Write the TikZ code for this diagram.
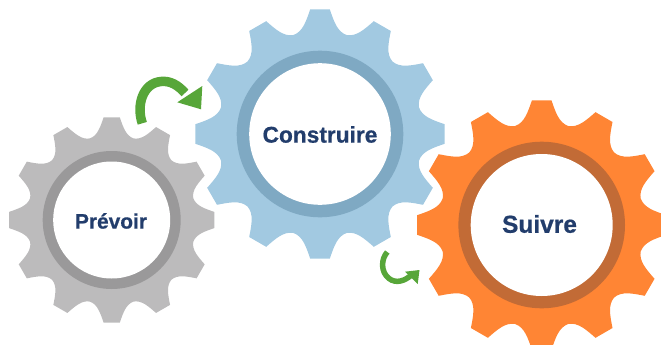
\documentclass[tikz,border=0pt]{standalone}
\usepackage{fontspec}
\setmainfont{Liberation Sans}
\newfontfamily\heavyfont[FakeBold=0.6]{Liberation Sans Bold}
\definecolor{grayA}{HTML}{BCBBBC}\definecolor{grayB}{HTML}{9A999A}
\definecolor{blueA}{HTML}{A2C9E1}\definecolor{blueB}{HTML}{7FA9C3}
\definecolor{orangeA}{HTML}{FF8534}\definecolor{orangeB}{HTML}{C26B36}
\definecolor{greenA}{HTML}{57A639}\definecolor{navy}{HTML}{223D6C}
% #1 centre x, #2 centre y, #3 outer radius, #4 ring outer, #5 ring inner, #6 fill, #7 ring colour
\newcommand{\gearshape}[7]{%
  \begin{scope}[shift={(#1,#2)}]
    \fill[#6] (-4.5:#3)
      \foreach \a in {0,30,...,330}{
        -- (\a+4.5:#3)
        .. controls (\a+7:{0.91*#3}) and (\a+9.5:{0.83*#3}) .. (\a+15:{0.82*#3})
        .. controls (\a+20.5:{0.83*#3}) and (\a+23:{0.91*#3}) .. (\a+25.5:#3)
      } -- cycle;
    \fill[#7] (0,0) circle[radius=#4];
    \fill[white] (0,0) circle[radius=#5];
  \end{scope}}
\tikzset{
  label text/.style={text=navy,inner sep=0pt},
  green band/.style={draw=greenA,line cap=butt},
  green head/.style={fill=greenA}
}
\begin{document}
\begin{tikzpicture}[x=1pt,y=-1pt]
\useasboundingbox (0,0) rectangle (661,345);
\clip (0,0) rectangle (661,345);
\gearshape{111.7}{220}{103}{69}{58.5}{grayA}{grayB}
\gearshape{320}{134}{125}{83.3}{70.8}{blueA}{blueB}
\gearshape{541.7}{225}{125}{83.3}{71}{orangeA}{orangeB}
\node[label text,font=\heavyfont\fontsize{20.9}{24}\selectfont] (prevoir) at (111,221) {Prévoir};
\node[label text,font=\heavyfont\fontsize{22.7}{26}\selectfont] (construire) at (320,134.5) {Construire};
\node[label text,font=\heavyfont\fontsize{24.5}{28}\selectfont] (suivre) at (539.5,224) {Suivre};
% arrows
\coordinate (a1s) at (142.3,123.3);
\coordinate (a1m) at (161,81.5);
\coordinate (a1e) at (185,93);
\coordinate (h1a) at (202.3,86);
\coordinate (h1b) at (201,109.3);
\coordinate (h1c) at (177.3,102.3);
\draw[green band,line width=9.5pt] (a1s) .. controls (136,105) and (143,83) .. (a1m) .. controls (170,80.5) and (178,85) .. (a1e);
\fill[green head] (h1a) -- (h1b) -- (h1c) -- cycle;
\coordinate (a2s) at (387.3,252);
\coordinate (a2m) at (389,278.5);
\coordinate (a2e) at (412,274.5);
\coordinate (h2a) at (419.5,270);
\coordinate (h2b) at (417.7,284);
\coordinate (h2c) at (405,271.7);
\draw[green band,line width=5.5pt] (a2s) .. controls (381,259) and (380.5,272) .. (a2m) .. controls (396,284) and (405,281) .. (a2e);
\fill[green head] (h2a) -- (h2b) -- (h2c) -- cycle;
\end{tikzpicture}
\end{document}
